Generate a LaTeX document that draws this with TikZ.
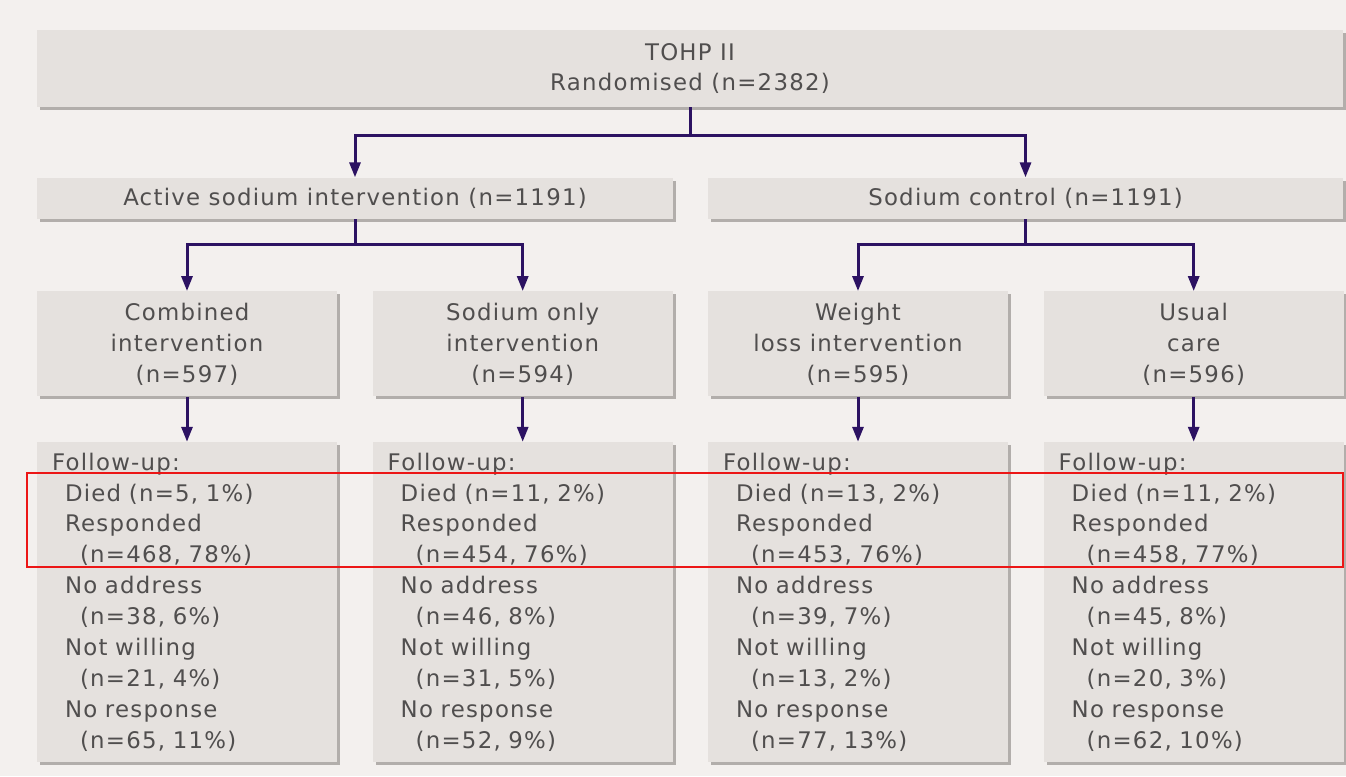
\documentclass[tikz,border=0pt]{standalone}
\usepackage{fontspec}
\setmainfont{DejaVu Sans}[LetterSpace=5.5]
\usepackage{tikz}
\usetikzlibrary{
  arrows.meta,
  positioning,
  shadows
}
\usepackage{xcolor}
\definecolor{pagebg}{RGB}{243,240,238}
\definecolor{boxfill}{RGB}{229,225,222}
\definecolor{boxshade}{RGB}{178,174,171}
\definecolor{txtgray}{RGB}{80,78,78}
\definecolor{cpurple}{RGB}{44,18,98}
\definecolor{cred}{RGB}{236,22,22}

% follow-up counts: died, responded, no address, not willing, no response
\newcommand{\fuptext}[5]{Follow-up:\\
  \hspace*{0.26cm}Died (n=#1)\\
  \hspace*{0.26cm}Responded\\
  \hspace*{0.56cm}(n=#2)\\
  \hspace*{0.26cm}No address\\
  \hspace*{0.56cm}(n=#3)\\
  \hspace*{0.26cm}Not willing\\
  \hspace*{0.56cm}(n=#4)\\
  \hspace*{0.26cm}No response\\
  \hspace*{0.56cm}(n=#5)}

\tikzset{
  stage/.style={
    rectangle, fill=boxfill, draw=none, text=txtgray,
    font=\fontsize{13pt}{17.6pt}\selectfont, align=center,
    inner sep=0.05cm,
    drop shadow={shadow xshift=0.06cm, shadow yshift=-0.06cm,
                 fill=boxshade, opacity=1}
  },
  topbox/.style={
    stage, minimum width=26.12cm, minimum height=1.54cm
  },
  armbox/.style={
    stage, minimum width=12.72cm, minimum height=0.82cm
  },
  grpbox/.style={
    stage, minimum width=6.0cm, minimum height=2.10cm
  },
  fupbox/.style={
    stage, align=left, text width=5.4cm, inner xsep=0.3cm,
    minimum width=6.0cm, minimum height=6.40cm
  },
  arr/.style={-{Triangle[length=0.30cm, width=0.22cm]},
    line width=0.06cm, draw=cpurple},
  hilite/.style={draw=cred, line width=0.04cm}
}

\begin{document}
\begin{tikzpicture}

    \path[use as bounding box, fill=pagebg] (0,0) rectangle (26.92,-15.52);

    %% ---- randomisation -------------------------------------------
    \node[topbox] (rand) at (13.80,-1.37) {TOHP II\\Randomised (n=2382)};

    %% ---- sodium arms ---------------------------------------------
    \node[armbox, below right=1.40cm and 0cm of rand.south west]
      (act) {Active sodium intervention (n=1191)};
    \node[armbox, below left=1.40cm and 0cm of rand.south east,
          minimum width=12.70cm]
      (ctl) {Sodium control (n=1191)};

    \draw[arr] (rand.south) -- ++(0,-0.56) -| (act.north);
    \draw[arr] (rand.south) -- ++(0,-0.56) -| (ctl.north);

    %% ---- intervention groups -------------------------------------
    \node[grpbox, below right=1.44cm and 0cm of act.south west]
      (comb) {Combined\\intervention\\(n=597)};
    \node[grpbox, right=0.70cm of comb]
      (sodo) {Sodium only\\intervention\\(n=594)};
    \node[grpbox, below right=1.44cm and 0cm of ctl.south west]
      (wgt) {Weight\\loss intervention\\(n=595)};
    \node[grpbox, right=0.70cm of wgt]
      (usual) {Usual\\care\\(n=596)};

    \draw[arr] (act.south) -- ++(0,-0.50) -| (comb.north);
    \draw[arr] (act.south) -- ++(0,-0.50) -| (sodo.north);
    \draw[arr] (ctl.south) -- ++(0,-0.50) -| (wgt.north);
    \draw[arr] (ctl.south) -- ++(0,-0.50) -| (usual.north);

    %% ---- follow-up -----------------------------------------------
    \node[fupbox, below=0.90cm of comb] (fcomb)
      {\fuptext{5, 1\%}{468, 78\%}{38, 6\%}{21, 4\%}{65, 11\%}};
    \node[fupbox, below=0.90cm of sodo] (fsodo)
      {\fuptext{11, 2\%}{454, 76\%}{46, 8\%}{31, 5\%}{52, 9\%}};
    \node[fupbox, below=0.90cm of wgt] (fwgt)
      {\fuptext{13, 2\%}{453, 76\%}{39, 7\%}{13, 2\%}{77, 13\%}};
    \node[fupbox, below=0.90cm of usual] (fusual)
      {\fuptext{11, 2\%}{458, 77\%}{45, 8\%}{20, 3\%}{62, 10\%}};

    \draw[arr] (comb)  -- (fcomb);
    \draw[arr] (sodo)  -- (fsodo);
    \draw[arr] (wgt)   -- (fwgt);
    \draw[arr] (usual) -- (fusual);

    %% ---- died / responded rows -----------------------------------
    \draw[hilite] (0.54,-9.46) rectangle (26.86,-11.34);

\end{tikzpicture}
\end{document}
